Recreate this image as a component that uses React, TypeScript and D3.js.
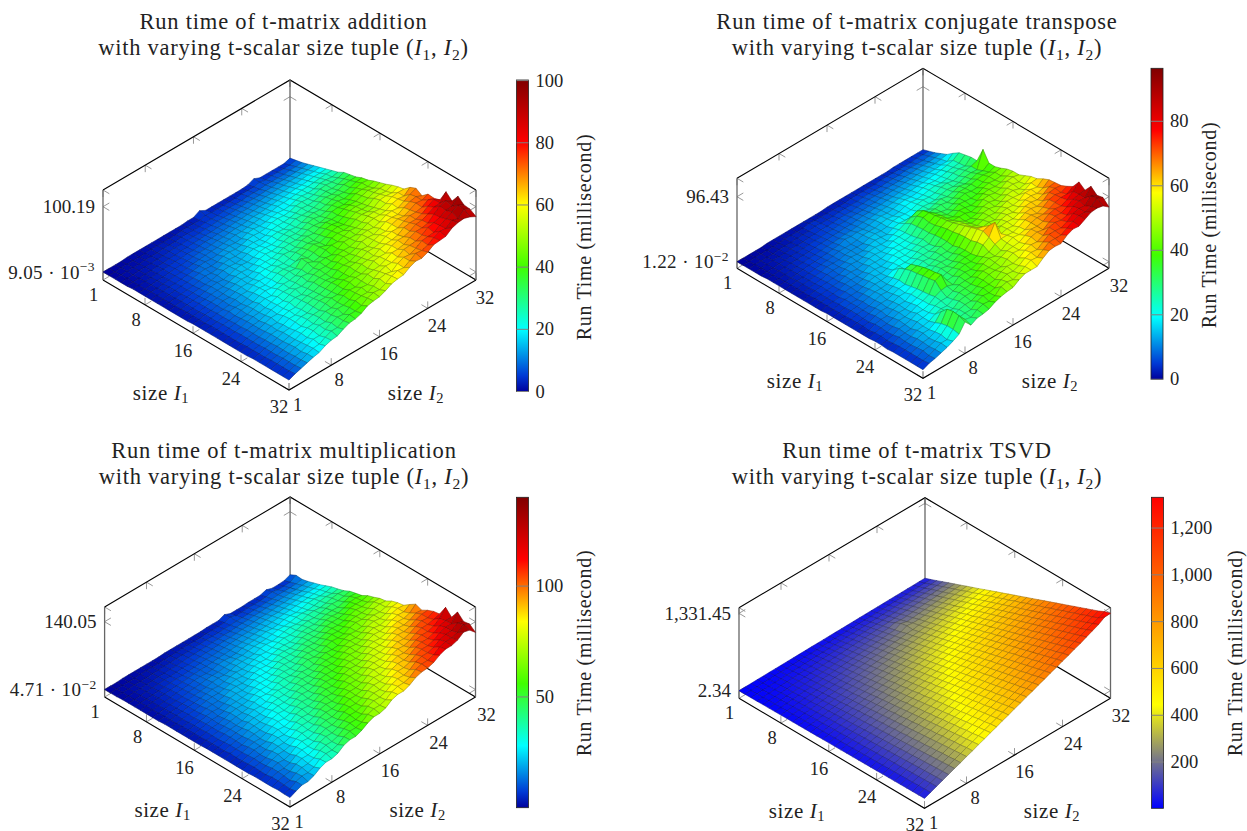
import React from 'react'
import * as d3 from 'd3'

// axis ticks shared by all four plots
const sizeTicks = [1, 8, 16, 24, 32]
const sizeIndex = d3.range(1, 33)

const titles = ['addition', 'conjugate transpose', 'multiplication', 'TSVD']

// run time in ms, one row per I1 (1..32), one column per I2 (1..32)
const additionTimes = [
  [0,0,0,0,1,1,1,1,1,1,1,1,1,1,2,2,7,2,2,2,2,2,2,2,3,7,3,3,3,3,3,6],
  [0,0,1,1,1,1,1,2,2,2,2,2,3,3,3,3,5,4,4,4,4,4,5,5,5,7,5,6,6,6,6,8],
  [0,1,1,1,1,2,2,2,3,3,3,4,4,4,4,5,5,5,6,6,6,6,7,7,7,8,8,8,8,9,9,10],
  [0,1,1,2,2,2,3,3,4,4,4,5,5,5,6,6,7,7,7,8,8,9,9,9,10,10,11,11,11,12,12,13],
  [0,1,1,2,2,3,3,4,4,5,5,6,6,7,7,8,8,9,9,10,10,11,11,12,12,13,13,14,14,15,15,16],
  [1,1,2,2,3,4,4,5,5,6,6,7,8,8,9,9,10,11,11,12,12,13,13,14,15,15,16,16,17,18,18,19],
  [1,1,2,3,3,4,5,5,6,7,8,8,9,10,10,11,12,12,13,14,14,15,16,17,17,18,19,19,20,21,21,22],
  [1,2,2,3,4,5,5,6,7,8,9,10,10,11,12,13,13,14,15,16,17,17,19,19,20,21,22,22,23,24,25,25],
  [1,2,3,4,4,5,6,7,9,10,9,10,12,13,12,13,16,17,16,17,19,20,19,20,23,24,23,24,27,27,26,28],
  [1,2,3,4,5,6,7,9,10,9,10,13,14,13,14,17,18,17,18,21,22,21,22,25,26,25,26,29,30,29,30,33],
  [1,2,3,4,5,6,8,10,9,10,13,14,13,14,17,18,17,18,21,22,22,23,25,27,26,27,29,31,30,31,34,35],
  [1,2,4,5,6,7,8,9,11,13,14,13,14,17,19,18,19,22,23,22,24,27,27,27,28,31,33,32,33,36,37,37],
  [1,3,4,5,6,8,10,11,10,12,15,16,15,17,20,21,20,22,25,26,25,27,30,31,30,32,35,36,35,37,40,41],
  [1,3,4,6,7,9,10,10,12,15,16,15,17,20,22,21,22,25,27,26,28,32,33,31,33,37,38,36,38,42,44,43],
  [1,3,4,6,8,9,10,12,14,16,15,17,20,21,21,23,26,27,27,28,32,33,32,34,38,39,38,40,44,45,44,47],
  [2,3,5,6,8,10,10,13,15,15,16,20,21,21,24,27,26,27,32,33,32,35,38,37,38,42,43,43,46,49,47,50],
  [2,3,5,7,8,9,12,14,14,18,19,19,22,25,24,26,30,31,33,32,35,39,40,38,41,45,46,45,48,51,52,53],
  [2,4,5,7,10,11,11,14,17,19,18,21,25,26,25,27,31,34,37,34,37,41,42,40,44,48,47,47,53,54,53,57],
  [2,4,6,7,9,12,13,14,18,20,19,21,26,28,27,37,32,35,38,35,41,43,42,43,48,50,49,50,56,57,56,60],
  [2,4,6,8,10,11,14,17,19,18,23,25,25,27,31,36,32,34,39,41,41,44,47,46,49,53,54,53,56,61,62,62],
  [2,4,6,8,11,13,14,16,19,22,24,24,27,31,30,33,37,38,37,41,46,46,46,49,53,55,55,56,61,63,62,70],
  [2,4,7,9,11,12,15,18,20,21,25,28,27,29,34,36,36,38,43,44,44,47,52,53,52,55,60,61,60,65,70,74],
  [2,4,7,9,11,14,17,17,20,24,26,25,29,33,35,35,37,42,45,44,47,52,53,52,56,61,62,61,66,70,72,68],
  [2,5,7,9,12,15,15,20,22,22,27,29,30,33,36,35,41,43,43,47,51,50,54,57,57,62,65,64,68,73,72,76],
  [2,5,7,10,13,14,17,21,21,24,28,30,31,34,38,38,41,46,47,49,53,53,55,60,62,62,67,70,70,72,78,75],
  [3,5,8,10,13,16,17,21,24,24,28,32,32,35,39,42,42,45,50,51,52,57,59,60,62,68,70,70,73,79,84,78],
  [3,5,8,11,13,16,19,20,25,27,28,33,36,36,39,44,46,46,49,55,56,56,62,65,65,68,73,74,78,83,84,96],
  [3,6,8,11,14,16,20,23,24,28,32,32,35,40,43,42,46,51,52,53,57,62,62,64,69,73,73,75,83,90,93,87],
  [3,6,9,11,15,17,19,24,27,27,32,36,36,39,44,47,46,50,55,58,58,61,67,68,69,73,79,81,84,89,90,100],
  [3,6,9,12,14,18,22,22,26,31,34,33,38,43,45,45,49,55,57,55,62,66,65,69,75,76,77,82,87,92,97,92],
  [3,6,9,12,16,19,20,25,29,29,34,38,38,41,47,50,49,53,59,62,61,66,72,71,74,80,84,83,90,87,96,91],
  [3,7,10,13,16,18,23,26,27,32,36,37,40,46,48,49,53,58,60,61,67,71,70,74,80,81,82,89,92,93,90,85],
]

const transposeTimes = [
  [0,0,0,0,0,1,1,1,1,1,1,1,1,1,1,2,2,2,2,2,2,2,2,2,2,2,3,3,3,3,3,3],
  [0,0,1,1,1,1,1,2,2,2,2,4,3,3,3,3,3,3,4,4,4,4,4,5,5,5,5,5,5,6,6,6],
  [0,1,1,1,1,2,2,2,3,3,3,5,4,4,4,5,5,5,5,6,6,6,6,7,7,7,8,8,8,8,9,9],
  [0,1,1,2,2,2,3,3,3,4,4,5,5,5,6,6,6,7,7,8,8,8,9,9,9,10,10,11,11,11,12,13],
  [0,1,1,2,2,3,3,4,4,5,5,6,6,7,7,8,8,8,9,9,10,10,11,11,12,12,13,13,14,14,15,17],
  [1,1,2,2,3,3,4,4,5,6,6,7,7,8,8,9,10,10,11,11,12,12,13,13,14,15,15,16,16,17,17,24],
  [1,1,2,3,3,4,5,5,6,7,7,8,9,9,10,11,11,12,13,13,14,15,15,16,17,17,18,19,20,22,24,30],
  [1,2,2,3,4,5,5,6,7,8,9,12,11,12,11,12,14,15,14,15,17,18,17,18,20,21,20,21,23,24,25,32],
  [1,2,3,3,4,5,6,7,8,10,10,10,11,13,13,13,15,16,15,16,19,20,19,20,22,23,22,23,26,27,26,34],
  [1,2,3,4,5,6,8,8,8,10,11,11,11,14,15,14,15,18,19,18,19,22,23,22,23,26,27,25,27,30,31,34],
  [1,2,3,4,5,7,8,8,10,12,11,11,14,16,15,14,18,20,19,19,22,24,23,23,26,28,27,28,31,32,31,56],
  [1,2,4,5,6,7,7,10,12,11,12,15,16,15,15,19,21,25,29,33,27,25,28,30,28,30,33,31,33,36,35,41],
  [1,3,4,5,6,7,10,11,10,12,15,16,15,16,20,21,22,30,36,39,31,31,32,30,31,35,35,36,38,39,38,41],
  [1,3,4,5,6,9,10,10,11,15,15,15,17,20,20,21,23,31,39,41,35,32,30,33,36,38,36,36,39,42,43,44],
  [1,3,4,5,8,9,9,11,14,15,14,16,20,21,20,22,25,32,37,42,37,33,34,38,37,36,37,41,43,42,43,48],
  [2,3,5,7,8,8,10,13,15,14,16,19,21,20,22,25,28,32,38,44,38,35,39,38,36,38,43,44,43,44,48,50],
  [2,3,5,7,7,10,12,14,14,15,19,20,20,21,25,27,26,34,41,45,40,40,40,37,39,45,46,44,46,51,52,50],
  [2,3,6,7,9,11,13,13,14,18,27,20,22,25,26,26,28,35,43,47,44,39,38,40,45,46,44,46,51,52,50,54],
  [2,4,6,7,8,11,14,13,16,20,31,33,23,27,26,30,33,35,44,50,46,41,42,46,47,45,47,52,53,50,52,58],
  [2,4,5,7,10,12,12,15,18,19,34,36,26,26,29,31,31,34,46,53,47,43,46,47,46,50,53,53,52,54,59,60],
  [2,4,5,9,11,11,14,17,17,21,35,39,25,30,31,30,33,37,47,56,50,46,48,46,51,53,52,54,60,60,58,65],
  [2,3,7,9,9,13,15,15,20,23,37,41,27,32,30,32,37,38,47,59,57,47,46,52,54,52,55,60,61,59,62,69],
  [2,5,7,8,11,14,14,17,20,24,38,42,29,31,33,36,38,38,50,61,64,47,53,54,53,56,61,62,60,63,69,70],
  [3,5,6,9,13,13,15,19,21,25,40,44,30,31,36,38,37,40,51,57,74,52,54,53,57,62,63,61,64,71,72,71],
  [3,4,7,11,12,14,18,18,21,27,31,32,29,36,37,36,39,44,46,52,55,55,54,57,62,64,61,65,71,73,71,75],
  [2,5,9,10,11,16,17,19,24,26,26,30,34,35,35,39,44,47,45,48,54,57,56,58,63,65,65,68,72,74,74,80],
  [3,6,8,10,14,15,17,22,25,24,28,33,34,35,40,44,44,46,49,53,54,55,60,64,63,65,71,73,72,76,83,92],
  [3,6,8,12,15,15,20,31,26,25,31,33,33,37,41,44,45,45,51,55,54,58,63,65,63,69,73,72,76,82,84,85],
  [3,6,9,12,13,17,24,40,25,29,31,31,35,40,40,42,48,51,50,53,59,62,61,65,72,74,72,74,82,85,84,96],
  [3,6,10,11,14,18,26,42,28,29,29,36,39,38,40,47,50,49,52,58,61,60,66,72,72,71,75,82,84,83,92,88],
  [3,6,8,12,16,16,26,41,30,28,34,37,36,39,47,49,47,51,56,60,59,65,71,71,71,76,81,84,84,87,94,90],
  [3,7,9,12,15,19,24,37,27,32,33,35,40,43,45,46,52,56,56,56,63,69,70,69,76,80,79,84,89,90,88,81],
]

const multiplyTimes = [
  [0,0,0,1,1,1,1,1,1,1,2,2,2,2,2,2,2,3,3,3,8,3,3,3,4,4,4,8,4,4,5,10],
  [0,1,1,1,1,2,2,2,2,3,3,3,4,4,4,4,5,5,5,6,10,6,6,7,7,7,8,11,8,8,9,16],
  [0,1,1,2,2,2,3,3,4,4,5,5,5,6,6,7,7,7,8,8,9,9,9,10,10,11,11,12,12,12,13,15],
  [1,1,2,2,3,3,4,4,5,5,6,7,7,8,8,9,9,10,10,11,12,12,13,13,14,14,15,15,16,16,17,18],
  [1,1,2,3,3,4,5,5,6,7,7,8,9,10,10,11,12,12,13,14,14,15,16,16,17,18,18,19,20,20,21,22],
  [1,2,2,3,4,5,6,7,7,8,9,10,11,11,12,13,14,15,16,16,17,18,19,20,20,21,22,23,24,25,25,26],
  [1,2,3,4,5,6,7,8,9,10,11,11,12,13,14,15,16,17,18,19,20,21,22,23,24,25,26,27,28,29,30,31],
  [1,2,3,4,5,7,8,9,11,12,11,12,15,16,15,16,19,20,21,22,24,23,24,27,28,27,29,32,33,32,33,36],
  [1,2,4,5,6,7,9,10,11,13,14,14,16,17,19,19,21,23,23,24,26,28,28,29,32,33,32,34,36,38,37,39],
  [1,3,4,5,7,8,10,11,12,15,16,15,17,20,21,21,22,26,27,26,28,31,33,32,33,37,38,37,39,42,44,43],
  [2,3,5,6,8,9,11,13,15,14,16,19,21,20,22,25,27,26,28,31,33,32,34,37,39,38,40,43,45,44,46,49],
  [2,3,5,7,8,10,13,14,14,16,19,21,20,22,26,27,26,29,32,33,32,35,39,40,39,42,45,46,45,49,53,52],
  [2,4,5,7,9,12,13,13,16,20,21,20,22,27,28,27,29,34,35,34,36,41,42,41,44,48,49,48,51,56,57,55],
  [2,4,6,8,11,13,12,15,19,21,20,22,27,28,28,30,35,36,36,37,42,43,43,45,50,51,51,53,58,59,59,62],
  [2,4,6,9,11,11,14,18,19,20,21,26,28,28,30,35,37,36,38,43,45,44,47,51,53,52,54,59,62,61,63,66],
  [2,4,7,9,10,13,17,19,19,21,26,28,28,30,35,37,36,38,44,46,45,47,52,55,54,56,61,63,63,65,71,71],
  [2,5,7,9,12,15,17,18,20,25,28,27,29,35,37,36,38,44,47,45,47,53,56,55,56,62,65,64,66,72,74,73],
  [3,5,7,11,13,14,16,21,24,24,26,32,35,34,36,41,44,43,45,51,54,53,54,60,63,62,64,71,73,72,75,80],
  [3,5,8,11,13,15,20,22,23,26,31,33,33,35,41,44,43,45,51,53,53,56,61,64,63,66,72,75,73,76,83,84],
  [3,5,9,11,13,18,20,21,24,30,32,32,34,40,43,42,45,51,54,53,56,62,65,64,66,73,76,74,77,84,87,86],
  [3,7,9,10,15,18,19,23,28,31,30,33,39,42,41,44,51,53,53,55,62,65,64,67,73,77,76,78,85,88,87,95],
  [3,6,9,13,16,16,20,26,29,28,31,38,41,40,43,50,53,52,55,62,65,64,67,74,77,76,79,86,89,88,92,103],
  [3,6,10,14,15,17,24,27,26,29,37,40,39,42,49,52,51,55,62,65,64,67,74,77,77,80,87,90,89,92,99,98],
  [3,7,11,12,15,22,25,24,28,35,38,37,41,48,51,50,54,61,64,64,67,74,77,77,80,87,91,90,93,100,104,105],
  [3,8,10,13,19,22,22,26,33,36,36,39,47,50,49,53,60,63,63,66,74,77,77,80,87,91,90,94,101,105,104,110],
  [4,7,11,16,20,20,23,30,34,34,37,45,48,48,51,59,62,62,65,73,77,76,80,87,91,90,94,101,105,105,108,112],
  [4,7,13,17,16,20,28,32,31,35,43,46,46,50,57,61,61,64,72,76,75,79,87,91,90,94,102,105,105,109,117,133],
  [4,9,13,13,17,25,29,29,32,40,44,44,48,56,59,59,63,71,75,75,78,86,90,90,94,102,105,105,109,117,120,120],
  [4,9,12,14,22,26,26,30,38,42,42,46,53,57,57,61,69,73,73,77,85,89,89,93,101,105,105,109,117,121,121,138],
  [5,8,10,18,22,23,27,35,39,39,43,51,55,55,59,68,72,72,76,84,88,88,92,101,105,105,109,117,121,121,130,126],
  [4,7,15,19,19,23,32,36,36,40,49,53,53,57,66,70,70,74,83,87,87,91,100,104,104,108,117,121,121,125,134,128],
  [4,10,15,15,20,28,33,33,37,46,50,50,55,63,68,68,72,81,85,85,90,98,102,103,107,115,120,120,124,133,130,118],
]

const tsvdTimes = [
  [2,4,5,7,8,10,11,12,14,15,17,18,20,21,22,24,26,26,28,29,31,33,33,35,36,38,39,40,42,43,45,46],
  [3,5,8,10,13,16,18,21,23,26,29,31,34,37,39,42,44,47,49,53,55,57,60,63,65,68,70,73,76,78,81,83],
  [4,8,12,16,20,23,27,31,35,39,43,47,51,55,59,62,67,70,74,78,82,86,90,94,98,102,105,109,113,117,121,125],
  [5,10,16,21,26,31,36,42,47,52,57,63,68,73,78,84,88,94,99,105,109,115,120,125,130,136,140,146,151,157,161,167],
  [7,13,20,26,33,39,46,52,59,65,72,79,85,92,98,105,111,118,124,131,137,144,150,157,163,170,176,183,189,196,202,209],
  [8,16,23,31,39,47,55,62,71,78,86,94,102,109,118,125,133,141,148,157,164,192,180,187,196,203,212,218,227,234,243,250],
  [9,18,27,36,46,55,64,73,82,92,100,110,118,128,137,147,155,165,173,183,191,240,212,218,229,237,247,255,265,273,283,291],
  [10,21,31,42,52,62,73,83,94,105,114,126,135,147,156,167,177,188,198,209,218,262,250,252,260,271,281,292,302,313,322,334],
  [12,23,35,47,59,70,82,94,108,117,132,140,156,164,181,187,204,211,227,234,251,257,274,281,298,304,321,328,344,351,368,374],
  [13,26,39,52,65,78,91,103,117,128,143,154,169,180,195,206,221,232,247,258,273,284,299,310,325,336,351,362,377,388,403,414],
  [14,29,43,57,72,86,103,114,133,143,162,172,191,200,220,229,249,257,278,286,306,315,335,343,364,372,392,400,421,429,449,458],
  [16,31,47,63,78,94,108,125,138,156,170,187,201,218,232,250,263,281,294,312,326,343,357,374,388,406,419,437,450,468,482,499],
  [17,34,51,68,85,102,120,136,155,170,189,204,223,238,257,271,291,305,325,339,359,373,393,407,427,440,460,474,494,508,528,542],
  [18,36,55,73,92,109,126,146,162,182,198,218,234,255,270,291,306,328,343,364,379,400,416,437,452,473,488,510,525,546,561,582],
  [20,39,59,78,98,118,139,157,179,196,219,235,258,274,297,313,336,352,375,391,414,430,453,469,492,508,531,547,570,586,609,625],
  [21,42,62,84,104,126,144,167,185,209,226,251,267,292,309,334,351,375,392,417,434,459,475,500,517,542,559,583,600,625,642,667],
  [22,44,66,89,111,134,157,178,202,222,247,266,291,310,336,355,380,399,424,443,468,487,512,531,557,576,601,620,645,664,689,708],
  [23,47,70,95,117,141,162,188,208,235,254,282,301,329,348,375,395,422,442,469,488,516,535,563,582,609,629,656,676,703,722,750],
  [25,49,74,100,124,149,175,199,225,248,276,297,325,347,375,396,424,446,473,495,523,544,572,594,622,643,671,693,720,742,770,791],
  [26,52,78,105,130,157,180,209,231,261,283,313,335,365,387,417,439,469,491,521,543,573,595,625,647,677,699,729,751,781,803,833],
  [27,55,82,110,137,165,193,219,249,274,304,329,359,383,414,438,468,492,523,547,577,602,632,656,687,711,741,765,796,820,850,875],
  [29,57,86,115,143,173,198,230,254,287,312,344,369,401,426,459,483,516,540,573,598,630,655,687,712,745,769,802,826,859,884,916],
  [30,60,90,121,150,180,211,240,272,300,332,360,392,420,452,479,511,539,571,599,631,659,691,719,751,778,810,838,870,898,930,958],
  [31,62,94,126,156,188,216,251,278,313,340,375,403,438,465,500,527,563,590,625,652,687,715,750,777,812,839,875,902,937,964,999],
  [33,65,98,131,163,196,230,261,296,326,361,391,426,456,491,521,556,586,621,651,686,716,751,781,816,846,881,911,946,976,1011,1041],
  [34,68,101,136,169,204,235,271,301,339,369,407,436,474,504,542,572,609,639,677,707,745,774,812,842,880,910,947,977,1015,1045,1083],
  [35,70,105,141,176,212,248,282,319,352,389,422,459,492,530,563,600,633,670,703,740,773,810,843,881,914,951,984,1021,1054,1091,1124],
  [36,73,109,147,182,219,253,292,325,365,397,438,470,511,543,583,616,656,689,729,761,802,834,875,907,947,980,1020,1053,1093,1125,1166],
  [38,75,113,152,189,227,266,303,342,378,418,453,493,529,569,604,644,680,719,755,795,830,870,906,946,981,1021,1057,1096,1132,1172,1207],
  [39,78,117,157,195,235,271,313,348,391,426,469,504,547,582,625,660,703,738,781,816,859,894,937,972,1015,1050,1093,1128,1171,1206,1249],
  [40,81,121,162,202,243,284,323,366,404,446,485,527,565,608,646,688,726,769,807,849,888,930,968,1011,1049,1091,1129,1172,1215,1253,1300],
  [42,83,125,167,208,251,289,334,371,417,455,500,538,583,621,667,704,750,787,833,871,916,954,999,1037,1083,1120,1170,1215,1260,1325,1331],
]

const jetStops = [0, 0.05, 0.2, 0.4, 0.6, 0.8, 1]
const jetColors = ['#00009c', '#0038d4', '#00ffff', '#40ff00', '#ffff00', '#ff0000', '#800000']
const hotStops = [0, 1 / 3, 2 / 3, 1]
const hotColors = ['#0000ff', '#ffff00', '#ff8000', '#ff0000']

const FONT = '"Liberation Serif", serif'
const TICK_GREY = '#999'

const panels = [
  {
    id: 'p1', what: titles[0], times: additionTimes, titleX: 283.5, titleY: 29,
    left: 103, front: 289, right: 476, top: 190, bottom: 280,
    zDomain: [0.00905, 100.19], zRange: [272, 206.7], zMain: ['9.05 · 10', '100.19'], zExp: ['−3', ''],
    stops: jetStops, colors: jetColors, barX: 516.5, barRange: [391.5, 80], barDomain: [0, 100.19],
    barTicks: [0, 20, 40, 60, 80, 100], labelX: 584, labelY: 237,
  },
  {
    id: 'p2', what: titles[1], times: transposeTimes, titleX: 917, titleY: 29,
    left: 737, front: 923, right: 1109, top: 178.3, bottom: 268.3,
    zDomain: [0.0122, 96.43], zRange: [261.7, 196.7], zMain: ['1.22 · 10', '96.43'], zExp: ['−2', ''],
    stops: jetStops, colors: jetColors, barX: 1151, barRange: [379.3, 68.3], barDomain: [0, 96.43],
    barTicks: [0, 20, 40, 60, 80], labelX: 1209, labelY: 225,
  },
  {
    id: 'p3', what: titles[2], times: multiplyTimes, titleX: 284, titleY: 458,
    left: 104.6, front: 290, right: 475.5, top: 607, bottom: 697,
    zDomain: [0.0471, 140.05], zRange: [689.5, 621.7], zMain: ['4.71 · 10', '140.05'], zExp: ['−2', ''],
    stops: jetStops, colors: jetColors, barX: 516.5, barRange: [807.7, 497.3], barDomain: [0.0471, 140.05],
    barTicks: [50, 100], labelX: 584, labelY: 653,
  },
  {
    id: 'p4', what: titles[3], times: tsvdTimes, titleX: 917, titleY: 458,
    left: 739, front: 924.5, right: 1110.5, top: 607.7, bottom: 698.3,
    zDomain: [2.34, 1331.45], zRange: [690.7, 613.3], zMain: ['2.34', '1,331.45'], zExp: ['', ''],
    stops: hotStops, colors: hotColors, barX: 1151.5, barRange: [808.3, 497.3], barDomain: [2.34, 1331.45],
    barTicks: [200, 400, 600, 800, 1000, 1200], labelX: 1235, labelY: 653,
  },
]

type PanelSpec = (typeof panels)[number]

const polyPath = d3.line().curve(d3.curveLinearClosed)

function Plot({ p }: { p: PanelSpec }) {
  const depth = 110
  const xI = d3.scaleLinear().domain([1, 32]).range([0, p.front - p.left])
  const yI = d3.scaleLinear().domain([1, 32]).range([0, depth])
  const xJ = d3.scaleLinear().domain([1, 32]).range([0, p.right - p.front])
  const yJ = d3.scaleLinear().domain([1, 32]).range([0, -depth])
  const zY = d3.scaleLinear().domain(p.zDomain).range(p.zRange)
  const color = d3.scaleLinear<string>()
    .domain(p.stops.map(s => p.barDomain[0] + s * (p.barDomain[1] - p.barDomain[0])))
    .range(p.colors)
    .interpolate(d3.interpolateRgb)
    .clamp(true)
  const barY = d3.scaleLinear().domain(p.barDomain).range(p.barRange)

  // screen position at z given as a pixel height of the left corner
  const at = (i: number, j: number, y: number): [number, number] =>
    [p.left + xI(i) + xJ(j), y + yI(i) + yJ(j)]
  const surf = (i: number, j: number) => at(i, j, zY(p.times[i - 1][j - 1]))
  const base = (i: number, j: number) => at(i, j, p.bottom)
  const roof = (i: number, j: number) => at(i, j, p.top)

  // painter's order, back corner (I1=1, I2=32) first
  const quads: { d: string; fill: string; edge: string }[] = []
  for (const i of sizeIndex.slice(0, 31)) {
    for (const j of sizeIndex.slice(0, 31).reverse()) {
      const mean = d3.mean([p.times[i - 1][j - 1], p.times[i - 1][j], p.times[i][j - 1], p.times[i][j]]) as number
      const fill = color(mean)
      quads.push({
        d: polyPath([surf(i, j), surf(i, j + 1), surf(i + 1, j + 1), surf(i + 1, j)]) as string,
        fill,
        edge: d3.interpolateRgb(fill, '#000')(0.4),
      })
    }
  }

  // tick marks are two stubs: one along z or a size axis, one along the other
  const stepX = (p.front - p.left) / 31
  const stepY = depth / 31
  const stub = (o: [number, number], dx: number, dy: number, key: string) => (
    <line key={key} x1={o[0]} y1={o[1]} x2={o[0] + dx} y2={o[1] + dy} stroke={TICK_GREY} strokeWidth={1} />
  )
  const ticks: React.ReactNode[] = []
  sizeTicks.forEach(k => {
    const a = roof(1, k)
    ticks.push(stub(a, 0, 7, `a${k}`), stub(a, stepX * 1.05, stepY * 1.05, `b${k}`))
    const b = roof(k, 32)
    ticks.push(stub(b, 0, 7, `c${k}`), stub(b, -stepX * 1.05, stepY * 1.05, `d${k}`))
    const c = base(k, 1)
    ticks.push(stub(c, 0, -7, `e${k}`), stub(c, stepX * 1.05, -stepY * 1.05, `f${k}`))
    const d = base(32, k)
    ticks.push(stub(d, 0, -7, `g${k}`), stub(d, -stepX * 1.05, -stepY * 1.05, `h${k}`))
  })
  p.zDomain.forEach((v, n) => {
    const y = zY(v)
    const l = at(1, 1, y)
    const r = at(32, 32, y)
    const back = at(1, 32, y)
    ticks.push(
      stub(l, stepX * 1.05, stepY * 1.05, `zl${n}`), stub(l, stepX * 1.05, -stepY * 1.05, `zm${n}`),
      stub(r, -stepX * 1.05, stepY * 1.05, `zr${n}`), stub(r, -stepX * 1.05, -stepY * 1.05, `zs${n}`),
      stub(back, stepX * 1.05, stepY * 1.05, `zb${n}`), stub(back, -stepX * 1.05, stepY * 1.05, `zc${n}`),
    )
  })

  const i1Labels = [[-9.5, 15], [33, 40], [80, 71], [128, 99], [176, 127]]
  const i2Labels = [[194.5, 125], [236, 100], [285.5, 74], [334, 46], [382, 18]]
  const tickFont = { fontSize: 18.5, textAnchor: 'middle' as const, dominantBaseline: 'central' as const }
  const gradId = `bar-${p.id}`
  const barW = 12
  const barTop = p.barRange[1]
  const barBottom = p.barRange[0]
  const lines = [
    [roof(1, 1), roof(1, 32), roof(32, 32)],
    [base(1, 1), base(32, 1), base(32, 32)],
    [base(1, 32), base(32, 32)],
  ]
  const verticals = [[roof(1, 1), base(1, 1)], [roof(32, 32), base(32, 32)], [roof(1, 32), base(1, 32)]]
  const seg = d3.line()
  const titleSub = 22 * 0.22
  const labelSub = 21 * 0.22

  return (
    <g fontFamily={FONT} fill="#222">
      <text x={p.titleX} y={p.titleY} fontSize={22.5} letterSpacing={0.8} textAnchor="middle">
        {`Run time of t-matrix ${p.what}`}
      </text>
      <text x={p.titleX} y={p.titleY + 26} fontSize={22.5} letterSpacing={0.75} textAnchor="middle">
        with varying t-scalar size tuple (<tspan fontStyle="italic">I</tspan>
        <tspan dy={titleSub} fontSize={15.5}>1</tspan>
        <tspan dy={-titleSub}>, </tspan>
        <tspan fontStyle="italic">I</tspan>
        <tspan dy={titleSub} fontSize={15.5}>2</tspan>
        <tspan dy={-titleSub}>)</tspan>
      </text>

      {ticks}
      {lines.map((l, n) => (
        <path key={n} d={seg(l as [number, number][]) as string} fill="none" stroke="#000" strokeWidth={1.1} />
      ))}
      {verticals.map((l, n) => (
        <path key={n} d={seg(l as [number, number][]) as string} fill="none" stroke="#666" strokeWidth={1.3} />
      ))}

      {quads.map((q, n) => (
        <path key={n} d={q.d} fill={q.fill} stroke={q.edge} strokeWidth={0.55} strokeLinejoin="round" />
      ))}

      {sizeTicks.map((k, n) => (
        <text key={k} x={p.left + i1Labels[n][0]} y={p.bottom + i1Labels[n][1]} {...tickFont}>{k}</text>
      ))}
      {sizeTicks.map((k, n) => (
        <text key={k} x={p.left + i2Labels[n][0]} y={p.bottom + i2Labels[n][1]} {...tickFont}>{k}</text>
      ))}
      <text x={p.left + 58} y={p.bottom + 113} fontSize={21} letterSpacing={0.6} textAnchor="middle" dominantBaseline="central">
        size <tspan fontStyle="italic">I</tspan><tspan dy={labelSub} fontSize={14.5}>1</tspan>
      </text>
      <text x={p.left + 313} y={p.bottom + 113} fontSize={21} letterSpacing={0.6} textAnchor="middle" dominantBaseline="central">
        size <tspan fontStyle="italic">I</tspan><tspan dy={labelSub} fontSize={14.5}>2</tspan>
      </text>
      {p.zDomain.map((v, n) => (
        <text key={n} x={p.left - 8} y={zY(v)} fontSize={19} letterSpacing={p.zExp[n] ? 0.4 : 0} textAnchor="end" dominantBaseline="central">
          {p.zMain[n]}
          {p.zExp[n] ? <tspan dy={-6} fontSize={13.5}>{p.zExp[n]}</tspan> : null}
        </text>
      ))}

      <defs>
        <linearGradient id={gradId} x1="0" x2="0" y1="1" y2="0">
          {p.stops.map((s, n) => <stop key={n} offset={s} stopColor={p.colors[n]} />)}
        </linearGradient>
      </defs>
      <rect x={p.barX} y={barTop} width={barW} height={barBottom - barTop} fill={`url(#${gradId})`} stroke="#222" strokeWidth={0.8} />
      {p.barTicks.map(t => (
        <g key={t}>
          <line x1={p.barX} x2={p.barX + barW} y1={barY(t)} y2={barY(t)} stroke="#808080" strokeWidth={1} />
          <text x={p.barX + barW + 7} y={barY(t)} fontSize={18.5} dominantBaseline="central">{d3.format(',')(t)}</text>
        </g>
      ))}
      <text
        transform={`translate(${p.labelX},${p.labelY}) rotate(-90)`}
        fontSize={20} letterSpacing={0.7} textAnchor="middle" dominantBaseline="central"
      >
        Run Time (millisecond)
      </text>
    </g>
  )
}

export default function App() {
  return (
    <svg width={1247} height={831} style={{ position: 'absolute', left: 0, top: 0, background: '#fff' }}>
      {panels.map(p => <Plot key={p.id} p={p} />)}
    </svg>
  )
}
